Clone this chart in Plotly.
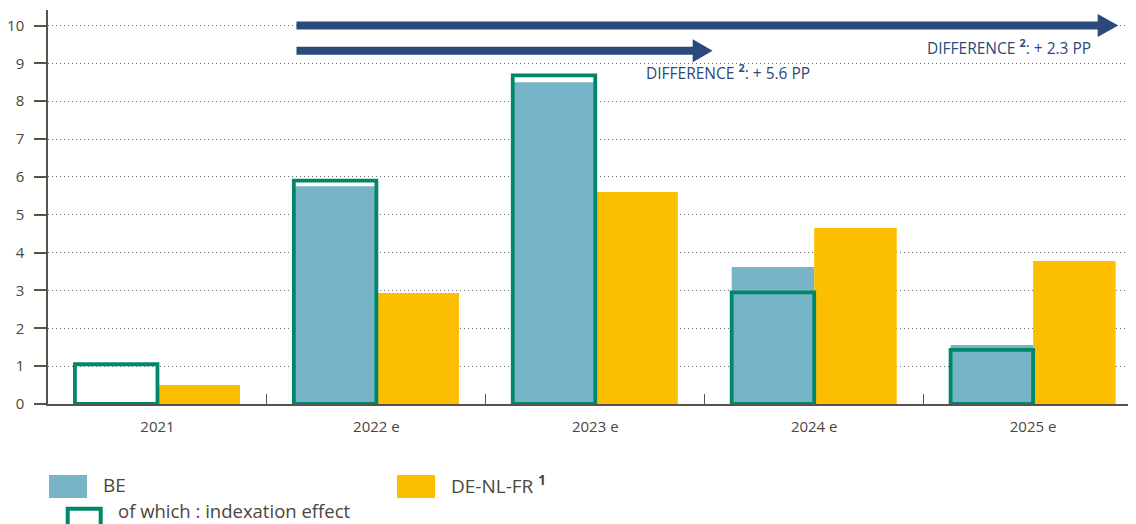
import plotly.graph_objects as go

# ---- data ----
categories = ["2021", "2022 e", "2023 e", "2024 e", "2025 e"]
be_values = [0.0, 5.75, 8.5, 3.62, 1.56]
indexation_values = [1.05, 5.9, 8.68, 2.95, 1.43]
de_nl_fr_values = [0.5, 2.93, 5.6, 4.65, 3.78]
y_ticks = [0, 1, 2, 3, 4, 5, 6, 7, 8, 9, 10]

# ---- styles ----
BLUE = "#77b4c7"
YELLOW = "#fbbe00"
GREEN = "#00876a"
NAVY = "#2b4a7c"
AXIS = "#5a5248"
TEXT = "#4b4640"
FONT = "Open Sans"

PAGE_OFF = 8  # default body margin of the html page
W, H = 1136 - PAGE_OFF, 524 - PAGE_OFF
ML, MR, MT, MB = 48 - PAGE_OFF, 0, 10 - PAGE_OFF, 120
plot_w = W - ML - MR
plot_h = H - MT - MB


def px_x(px):
    return (px - PAGE_OFF - ML) / plot_w


def px_y(py):
    return (H - MB - (py - PAGE_OFF)) / plot_h


fig = go.Figure()
fig.add_trace(go.Bar(x=categories, y=be_values, name="BE", offsetgroup="be",
                     marker=dict(color=BLUE, line=dict(width=0))))
fig.add_trace(go.Bar(x=categories, y=de_nl_fr_values, name="DE-NL-FR", offsetgroup="de",
                     marker=dict(color=YELLOW, line=dict(width=0))))
fig.add_trace(go.Bar(x=categories, y=indexation_values, name="of which: indexation effect",
                     offsetgroup="be",
                     marker=dict(color="rgba(0,0,0,0)", line=dict(color=GREEN, width=3.8))))

shapes = []
annotations = []

# arrows (difference indicators)
arrow_start = 0.635
arrows = [
    dict(y=10.0, base=4.295, tip=4.389),
    dict(y=9.33, base=2.445, tip=2.536),
]
for a in arrows:
    shapes.append(dict(type="line", xref="x", yref="y", x0=arrow_start, x1=a["base"] + 0.01,
                       y0=a["y"], y1=a["y"], line=dict(color=NAVY, width=8), layer="above"))
    hh = 0.304
    shapes.append(dict(type="path", xref="x", yref="y",
                       path=f"M {a['base']},{a['y'] + hh} L {a['tip']},{a['y']} L {a['base']},{a['y'] - hh} Z",
                       fillcolor=NAVY, line=dict(color=NAVY, width=0), layer="above"))

annotations.append(dict(xref="x", yref="y", x=4.272, y=9.43, xanchor="right", yanchor="middle",
                        showarrow=False, text="DIFFERENCE <sup><b>2</b></sup>: + 2.3 PP",
                        font=dict(family=FONT, size=15.5, color=NAVY)))
annotations.append(dict(xref="x", yref="y", x=2.224, y=8.76, xanchor="left", yanchor="middle",
                        showarrow=False, text="DIFFERENCE <sup><b>2</b></sup>: + 5.6 PP",
                        font=dict(family=FONT, size=15.5, color=NAVY)))

# custom legend
shapes.append(dict(type="rect", xref="paper", yref="paper", x0=px_x(49), x1=px_x(87),
                   y0=px_y(475), y1=px_y(498), fillcolor=BLUE, line=dict(width=0)))
shapes.append(dict(type="rect", xref="paper", yref="paper", x0=px_x(397), x1=px_x(435),
                   y0=px_y(475), y1=px_y(498), fillcolor=YELLOW, line=dict(width=0)))
shapes.append(dict(type="rect", xref="paper", yref="paper", x0=px_x(67.7), x1=px_x(100.7),
                   y0=px_y(508.7), y1=px_y(540), fillcolor="rgba(0,0,0,0)",
                   line=dict(color=GREEN, width=4)))
annotations.append(dict(xref="paper", yref="paper", x=px_x(101), y=px_y(485), xanchor="left",
                        yanchor="middle", showarrow=False, text="BE",
                        font=dict(family=FONT, size=19, color=TEXT)))
annotations.append(dict(xref="paper", yref="paper", x=px_x(449), y=px_y(485), xanchor="left",
                        yanchor="middle", showarrow=False, text="DE-NL-FR <sup><b>1</b></sup>",
                        font=dict(family=FONT, size=19, color=TEXT)))
annotations.append(dict(xref="paper", yref="paper", x=px_x(116), y=px_y(510), xanchor="left",
                        yanchor="middle", showarrow=False, text="of which : indexation effect",
                        font=dict(family=FONT, size=18.5, color=TEXT)))

fig.update_layout(
    width=W, height=H,
    margin=dict(l=ML, r=MR, t=MT, b=MB, pad=0),
    paper_bgcolor="white", plot_bgcolor="white",
    barmode="group", bargap=0.246, bargroupgap=0,
    showlegend=False,
    shapes=shapes, annotations=annotations,
    font=dict(family=FONT, color=TEXT),
)
fig.update_xaxes(
    type="category", range=[-0.5, 4.47],
    showline=True, linecolor=AXIS, linewidth=1.5,
    ticks="inside", tickson="boundaries", ticklen=10, tickcolor=AXIS, tickwidth=1.2,
    showgrid=False, zeroline=False,
    tickfont=dict(family=FONT, size=15, color=TEXT), ticklabelstandoff=8,
)
fig.update_yaxes(
    range=[0, plot_h / 37.85], tickvals=y_ticks,
    showline=True, linecolor=AXIS, linewidth=1.5,
    ticks="outside", ticklen=12, tickcolor=AXIS, tickwidth=1.5,
    showgrid=True, gridcolor="#6f6f6f", gridwidth=1.2, griddash="1px,3px",
    zeroline=False,
    tickfont=dict(family=FONT, size=15, color=TEXT), ticklabelstandoff=7,
)

fig.write_html("out.html")
